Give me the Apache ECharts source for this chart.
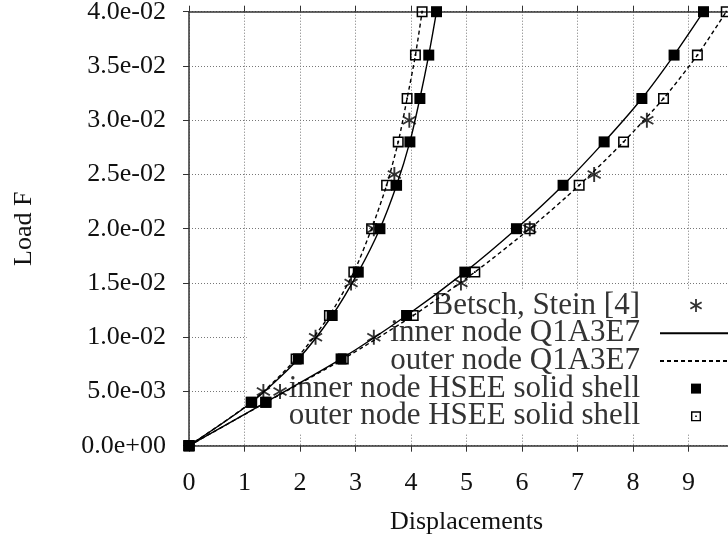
<!DOCTYPE html>
<html>
<head>
<meta charset="utf-8">
<script src="https://cdn.jsdelivr.net/npm/echarts@6/dist/echarts.min.js"></script>
<style>
html,body{margin:0;padding:0;background:#fff;}
#chart{width:728px;height:540px;}
</style>
</head>
<body>
<div id="chart"></div>
<script>
// ---- data ----
var xTicks = [0, 1, 2, 3, 4, 5, 6, 7, 8, 9, 10];
var yTicks = [0, 0.005, 0.01, 0.015, 0.02, 0.025, 0.03, 0.035, 0.04];

// load levels of the HSEE / Q1A3E7 results
var loadFE = [0, 0.004, 0.008, 0.012, 0.016, 0.020, 0.024, 0.028, 0.032, 0.036, 0.040];
// steep branch (left curves)
var innerHSEE_A = [0, 1.13, 1.97, 2.58, 3.05, 3.44, 3.74, 3.98, 4.16, 4.32, 4.46];
var outerHSEE_A = [0, 1.12, 1.93, 2.53, 2.97, 3.29, 3.56, 3.77, 3.93, 4.08, 4.20];
// flat branch (right curves)
var innerHSEE_B = [0, 1.38, 2.74, 3.92, 4.97, 5.90, 6.74, 7.48, 8.16, 8.74, 9.27];
var outerHSEE_B = [0, 1.39, 2.78, 4.04, 5.15, 6.14, 7.03, 7.83, 8.55, 9.16, 9.68];
// Q1A3E7 curves
var innerQ1_A = [0, 1.13, 1.97, 2.58, 3.05, 3.44, 3.74, 3.98, 4.16, 4.32, 4.46];
var outerQ1_A = [0, 1.12, 1.93, 2.53, 2.97, 3.29, 3.56, 3.77, 3.93, 4.08, 4.20];
var innerQ1_B = [0, 1.38, 2.74, 3.92, 4.97, 5.90, 6.74, 7.48, 8.16, 8.74, 9.27];
var outerQ1_B = [0, 1.39, 2.78, 4.04, 5.15, 6.14, 7.03, 7.83, 8.55, 9.16, 9.68];
// Betsch, Stein reference points
var loadRef = [0.005, 0.010, 0.015, 0.020, 0.025, 0.030];
var betsch_A = [1.34, 2.28, 2.92, 3.33, 3.70, 3.97];
var betsch_B = [1.64, 3.33, 4.90, 6.14, 7.30, 8.25];

var names = ['Betsch, Stein [4]', 'inner node Q1A3E7', 'outer node Q1A3E7',
             'inner node HSEE solid shell', 'outer node HSEE solid shell'];

function pairs(xs, ys) { return xs.map(function (x, i) { return [x, ys[i]]; }); }

function fmtExp(v) {
  if (Math.abs(v) < 1e-12) return '0.0e+00';
  var e = Math.floor(Math.log10(Math.abs(v)) + 1e-9);
  var m = v / Math.pow(10, e);
  var es = Math.abs(e) < 10 ? '0' + Math.abs(e) : '' + Math.abs(e);
  return m.toFixed(1) + 'e' + (e < 0 ? '-' : '+') + es;
}

var FONT = 'Liberation Serif';
var starPath = 'path://M0,-10 L0,10 M-8.66,-5 L8.66,5 M-8.66,5 L8.66,-5';
var fillSqPath = 'path://M0,0 H10 V10 H0 Z';
var openSqPath = 'path://M0,0 H10 V10 H0 Z M1.4,1.4 V8.6 H8.6 V1.4 Z M4.2,4.2 H5.8 V5.8 H4.2 Z';
// legend variants with a little empty margin so the squares stay ~10px in a 13px icon box
var fillSqIcon = 'path://M-1.5,-1.5 M11.5,11.5 M0,0 H10 V10 H0 Z';
var openSqIcon = 'path://M-1.5,-1.5 M11.5,11.5 M0,0 H10 V10 H0 Z M1.4,1.4 V8.6 H8.6 V1.4 Z M4.2,4.2 H5.8 V5.8 H4.2 Z';

function lineSeries(name, xs, dashed) {
  return {
    type: 'line', name: name, data: pairs(xs, loadFE),
    symbol: 'none', smooth: 0.25, z: 2, silent: true,
    lineStyle: { color: '#000', width: 1.4, type: dashed ? [4, 3] : 'solid' },
    itemStyle: { color: '#000' }
  };
}
function scatterSeries(name, xs, ys, symbol, size, extra) {
  var s = {
    type: 'scatter', name: name, data: pairs(xs, ys),
    symbol: symbol, symbolSize: size, symbolKeepAspect: true, z: 3, silent: true,
    itemStyle: { color: '#000', opacity: 1 }
  };
  if (extra) for (var k in extra) s[k] = extra[k];
  return s;
}

var chart = echarts.init(document.getElementById('chart'), null, { renderer: 'canvas' });
var axisTextColor = '#111';
chart.setOption({
  animation: false,
  backgroundColor: '#fff',
  grid: { left: 189, width: 555, top: 11.7, height: 434, containLabel: false, outerBoundsMode: 'none' },
  xAxis: [{
    type: 'value', min: 0, max: 10, interval: 1,
    name: 'Displacements', nameLocation: 'middle', nameGap: 63,
    nameTextStyle: { fontFamily: FONT, fontSize: 26, color: axisTextColor },
    axisLine: { show: true, onZero: false, lineStyle: { color: '#333', width: 1.5 } },
    axisTick: { show: true, inside: false, length: 6, lineStyle: { color: '#333', width: 1 } },
    axisLabel: { margin: 24, fontFamily: FONT, fontSize: 26, color: axisTextColor,
      formatter: function (v) { return String(v); } },
    splitLine: { show: true, lineStyle: { color: '#777', width: 1, type: [1, 2] } }
  }, {
    type: 'value', min: 0, max: 10, interval: 1, position: 'top',
    axisLine: { show: true, onZero: false, lineStyle: { color: '#333', width: 1.5 } },
    axisTick: { show: true, inside: false, length: 6, lineStyle: { color: '#333', width: 1 } },
    axisLabel: { show: false }, splitLine: { show: false }
  }],
  yAxis: [{
    type: 'value', min: 0, max: 0.04, interval: 0.005,
    name: 'Load F', nameLocation: 'middle', nameGap: 152, nameRotate: 90,
    nameTextStyle: { fontFamily: FONT, fontSize: 26, color: axisTextColor },
    axisLine: { show: true, onZero: false, lineStyle: { color: '#333', width: 1.5 } },
    axisTick: { show: true, inside: false, length: 6, lineStyle: { color: '#333', width: 1 } },
    axisLabel: { margin: 23, fontFamily: FONT, fontSize: 26, color: axisTextColor,
      formatter: function (v) { return fmtExp(v); } },
    splitLine: { show: true, lineStyle: { color: '#777', width: 1, type: [1, 2] } }
  }],
  legend: {
    orient: 'vertical', align: 'right', right: -5, top: 290, z: 1,
    backgroundColor: '#fff', padding: [0, 0, 2, 42],
    itemWidth: 72, itemHeight: 13, itemGap: -3.3,
    selectedMode: false,
    textStyle: { fontFamily: FONT, fontSize: 31, color: '#333', lineHeight: 27, padding: [0, 15, 0, 0] },
    data: [
      { name: names[0], itemStyle: { borderWidth: 1.8, borderColor: '#000' } },
      { name: names[1], itemStyle: { opacity: 0 } },
      { name: names[2], itemStyle: { opacity: 0 } },
      { name: names[3], icon: fillSqIcon },
      { name: names[4], icon: openSqIcon }
    ]
  },
  series: [
    lineSeries(names[1], innerQ1_A, false),
    lineSeries(names[1], innerQ1_B, false),
    lineSeries(names[2], outerQ1_A, true),
    lineSeries(names[2], outerQ1_B, true),
    scatterSeries(names[0], betsch_A, loadRef, starPath, 15, { itemStyle: { color: 'none', borderColor: '#000', borderWidth: 1.9 } }),
    scatterSeries(names[0], betsch_B, loadRef, starPath, 15, { itemStyle: { color: 'none', borderColor: '#000', borderWidth: 1.9 } }),
    scatterSeries(names[3], innerHSEE_A, loadFE, fillSqPath, 11),
    scatterSeries(names[3], innerHSEE_B, loadFE, fillSqPath, 11),
    scatterSeries(names[4], outerHSEE_A, loadFE, openSqPath, 11),
    scatterSeries(names[4], outerHSEE_B, loadFE, openSqPath, 11)
  ]
});
</script>
</body>
</html>
